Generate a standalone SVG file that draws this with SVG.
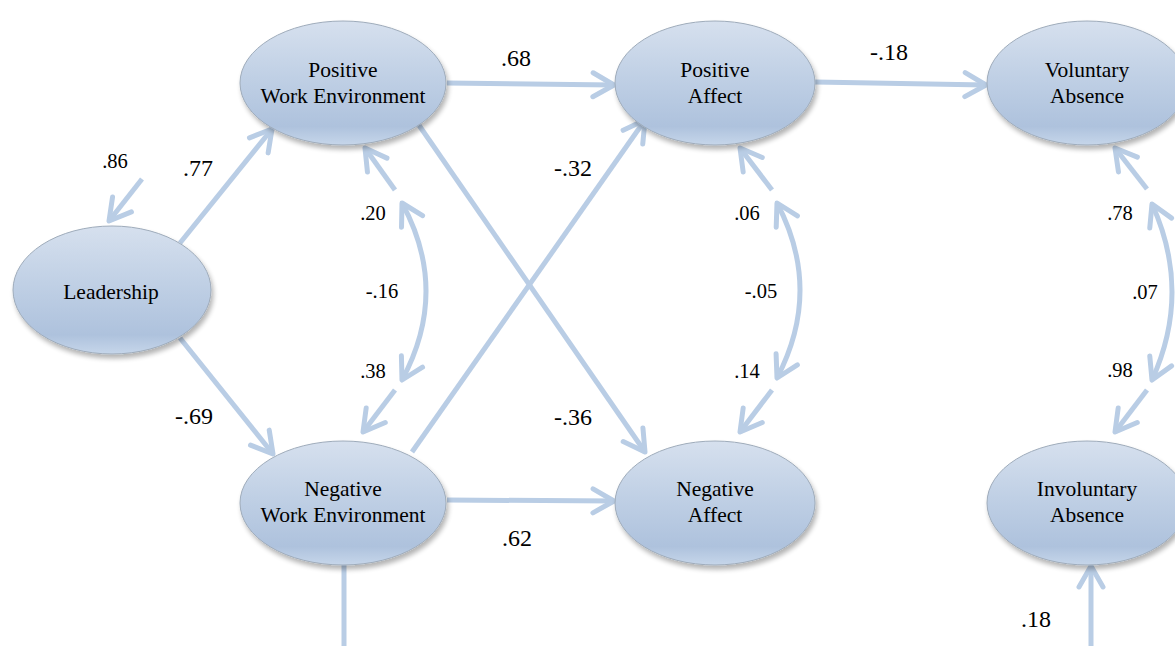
<svg xmlns="http://www.w3.org/2000/svg" width="1175" height="646" viewBox="0 0 1175 646">
<defs>
<linearGradient id="nodeFill" x1="0" y1="0" x2="0" y2="1">
<stop offset="0" stop-color="#d6e0ee"/>
<stop offset="0.45" stop-color="#c0d0e5"/>
<stop offset="0.85" stop-color="#aec2dd"/>
<stop offset="1" stop-color="#c6d6ea"/>
</linearGradient>
<filter id="shadow" x="-20%" y="-20%" width="140%" height="150%">
<feGaussianBlur in="SourceAlpha" stdDeviation="2.5"/>
<feOffset dx="2" dy="4" result="b"/>
<feComponentTransfer><feFuncA type="linear" slope="0.3"/></feComponentTransfer>
<feMerge><feMergeNode/><feMergeNode in="SourceGraphic"/></feMerge>
</filter>
<marker id="head" viewBox="0 0 30 30" markerUnits="userSpaceOnUse" markerWidth="30" markerHeight="30" refX="25" refY="15" orient="auto-start-reverse">
<path d="M4,3 L25,15 L4,27" fill="none" stroke="#b9cde5" stroke-width="5" stroke-linecap="round" stroke-linejoin="round"/>
</marker>
</defs>
<style>
.node ellipse{fill:url(#nodeFill);stroke:#9eabba;stroke-width:1;filter:url(#shadow)}
.node text{font-family:'Liberation Serif',serif;font-size:21.5px;fill:#000;text-anchor:middle}
.conn{fill:none;stroke:#b9cde5;stroke-width:5}
.arr{marker-end:url(#head)}
.dbl{marker-start:url(#head);marker-end:url(#head)}
.lbl{font-family:'Liberation Serif',serif;fill:#000;text-anchor:middle}
.big{font-size:24px}
.sm{font-size:20.5px}
</style>
<rect width="1175" height="646" fill="#ffffff"/>
<g id="connectors">
<line class="conn arr" x1="142" y1="179" x2="109" y2="221"/>
<line class="conn arr" x1="180" y1="243" x2="272" y2="129"/>
<line class="conn arr" x1="180" y1="338" x2="273" y2="454"/>
<line class="conn arr" x1="447" y1="83" x2="614" y2="85"/>
<line class="conn arr" x1="815" y1="82" x2="986" y2="85"/>
<line class="conn arr" x1="447" y1="500" x2="614" y2="501"/>
<line class="conn arr" x1="414" y1="118" x2="645" y2="452"/>
<line class="conn arr" x1="412" y1="452" x2="645" y2="120"/>
<line class="conn" x1="344" y1="564" x2="344" y2="646"/>
<line class="conn arr" x1="1091" y1="646" x2="1091" y2="566"/>
<line class="conn arr" x1="395" y1="190" x2="365" y2="148"/>
<line class="conn arr" x1="395" y1="390" x2="363" y2="432"/>
<line class="conn arr" x1="772" y1="190" x2="740" y2="148"/>
<line class="conn arr" x1="772" y1="390" x2="740" y2="432"/>
<line class="conn arr" x1="1147" y1="189" x2="1115" y2="148"/>
<line class="conn arr" x1="1147" y1="390" x2="1115" y2="432"/>
<path class="conn dbl" d="M402,203 Q450,291 402,380"/>
<path class="conn dbl" d="M777,203 Q823,290 777,378"/>
<path class="conn dbl" d="M1152,204 Q1192,292 1152,380"/>
</g>
<g id="leadership" class="node"><ellipse cx="112" cy="290" rx="99" ry="64"/><text x="111" y="299">Leadership</text></g>
<g id="pwe" class="node"><ellipse cx="343" cy="83" rx="103" ry="62"/><text x="343" y="77">Positive</text><text x="343" y="103">Work Environment</text></g>
<g id="nwe" class="node"><ellipse cx="343" cy="503" rx="103" ry="62"/><text x="343" y="496">Negative</text><text x="343" y="522">Work Environment</text></g>
<g id="pa" class="node"><ellipse cx="715" cy="83" rx="100" ry="62"/><text x="715" y="77">Positive</text><text x="715" y="103">Affect</text></g>
<g id="na" class="node"><ellipse cx="715" cy="503" rx="100" ry="62"/><text x="715" y="496">Negative</text><text x="715" y="522">Affect</text></g>
<g id="va" class="node"><ellipse cx="1087" cy="83" rx="100" ry="62"/><text x="1087" y="77">Voluntary</text><text x="1087" y="103">Absence</text></g>
<g id="ia" class="node"><ellipse cx="1087" cy="503" rx="100" ry="62"/><text x="1087" y="496">Involuntary</text><text x="1087" y="522">Absence</text></g>
<g id="labels">
<text class="lbl sm" x="115" y="168">.86</text>
<text class="lbl big" x="198" y="176">.77</text>
<text class="lbl big" x="194" y="424">-.69</text>
<text class="lbl big" x="516" y="66">.68</text>
<text class="lbl big" x="889" y="60">-.18</text>
<text class="lbl big" x="573" y="176">-.32</text>
<text class="lbl big" x="573" y="425">-.36</text>
<text class="lbl big" x="517" y="546">.62</text>
<text class="lbl big" x="1036" y="627">.18</text>
<text class="lbl sm" x="373" y="220">.20</text>
<text class="lbl sm" x="382" y="298">-.16</text>
<text class="lbl sm" x="373" y="378">.38</text>
<text class="lbl sm" x="747" y="220">.06</text>
<text class="lbl sm" x="761" y="298">-.05</text>
<text class="lbl sm" x="747" y="378">.14</text>
<text class="lbl sm" x="1120" y="220">.78</text>
<text class="lbl sm" x="1145" y="299">.07</text>
<text class="lbl sm" x="1120" y="377">.98</text>
</g>
</svg>
